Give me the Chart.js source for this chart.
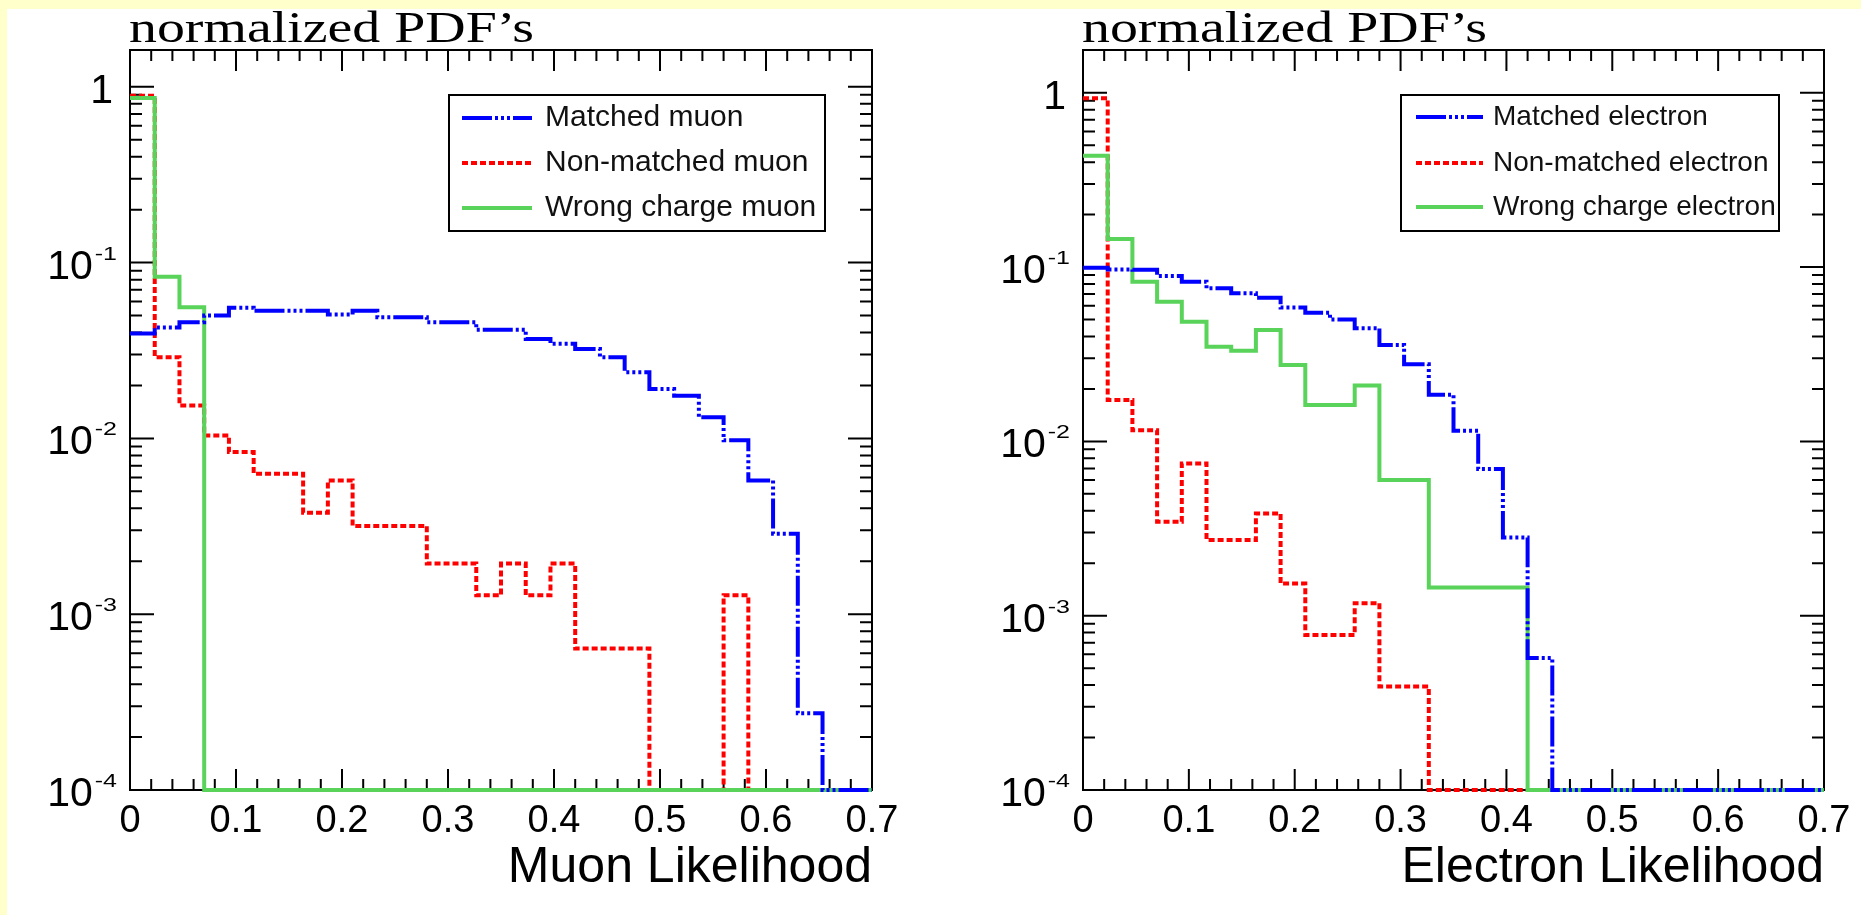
<!DOCTYPE html>
<html>
<head>
<meta charset="utf-8">
<title>normalized PDF's</title>
<script src="https://cdn.jsdelivr.net/npm/chart.js@4.4.1/dist/chart.umd.min.js"></script>
<style>
  html, body { margin: 0; padding: 0; background: #ffffcc; }
  #page { position: relative; width: 1861px; height: 915px; overflow: hidden; }
  #panel { position: absolute; left: 7px; top: 9px; right: 0; bottom: 0; background: #fff; }
  canvas { position: absolute; top: 0; }
  #muonChart { left: 0; }
  #electronChart { left: 930px; }
</style>
</head>
<body>
<div id="page">
  <div id="panel"></div>
  <canvas id="muonChart" width="930" height="915"></canvas>
  <canvas id="electronChart" width="931" height="915"></canvas>
</div>
<script>
// histogram binning: 30 bins between 0 and 0.7
const nBins = 30;
const xMin = 0;
const xMax = 0.7;

const xTickValues = [0, 0.1, 0.2, 0.3, 0.4, 0.5, 0.6, 0.7];
const xTickLabels = ["0", "0.1", "0.2", "0.3", "0.4", "0.5", "0.6", "0.7"];
const yDecades = [1e-4, 1e-3, 1e-2, 1e-1, 1];
const yExponents = ["-4", "-3", "-2", "-1", ""];

// muon likelihood (left)
const muonLabels = ["Matched muon", "Non-matched muon", "Wrong charge muon"];
const muonMatched = [0.0395, 0.0428, 0.0458, 0.050, 0.0553, 0.0533, 0.0533, 0.0533, 0.0507, 0.0533,
  0.0489, 0.0489, 0.0458, 0.0458, 0.0415, 0.0415, 0.0368, 0.0345, 0.0323, 0.029,
  0.0238, 0.0191, 0.0175, 0.0132, 0.00975, 0.00577, 0.00287, 0.000273, 0, 0];
const muonNonMatched = [0.89, 0.029, 0.0154, 0.0104, 0.00836, 0.0063, 0.0063, 0.00378, 0.00577, 0.00318,
  0.00318, 0.00318, 0.00194, 0.00194, 0.00128, 0.00194, 0.00128, 0.00194, 0.000638, 0.000638,
  0.000638, 0, 0, 0, 0.00128, 0, 0, 0, 0, 0];
const muonWrongCharge = [0.863, 0.0832, 0.0557, 0, 0, 0, 0, 0, 0, 0,
  0, 0, 0, 0, 0, 0, 0, 0, 0, 0,
  0, 0, 0, 0, 0, 0, 0, 0, 0, 0];

// electron likelihood (right)
const electronLabels = ["Matched electron", "Non-matched electron", "Wrong charge electron"];
const electronMatched = [0.099, 0.097, 0.0964, 0.0889, 0.0824, 0.0755, 0.0707, 0.0667, 0.0587, 0.0547,
  0.0501, 0.0446, 0.0357, 0.0277, 0.0185, 0.0115, 0.00695, 0.00281, 0.000571, 0,
  0, 0, 0, 0, 0, 0, 0, 0, 0, 0];
const electronNonMatched = [0.93, 0.0173, 0.0116, 0.00346, 0.00748, 0.00272, 0.00272, 0.00386, 0.00153, 0.000774,
  0.000774, 0.00118, 0.000392, 0.000392, 0, 0, 0, 0, 0, 0,
  0, 0, 0, 0, 0, 0, 0, 0, 0, 0];
const electronWrongCharge = [0.435, 0.145, 0.0824, 0.0632, 0.0486, 0.0349, 0.0331, 0.0435, 0.0274, 0.0162,
  0.0162, 0.0209, 0.00601, 0.00601, 0.00145, 0.00145, 0.00145, 0.00145, 0, 0,
  0, 0, 0, 0, 0, 0, 0, 0, 0, 0];

// line styles (blue on top, green, red at the bottom)
const seriesStyle = [
  { color: "#0000ff", width: 4, dash: [30, 3, 3, 3, 3, 3, 3, 3], order: 0 },
  { color: "#ff0000", width: 4, dash: [6, 3], order: 2 },
  { color: "#59d359", width: 4, dash: [], order: 1 }
];

const SANS = '"Liberation Sans", Arial, sans-serif';
const SERIF = '"Liberation Serif", "Times New Roman", serif';

// zero bins are drawn on the axis floor like ROOT does on a log scale
function histoPoints(values, floor) {
  var w = (xMax - xMin) / nBins;
  var pts = values.map(function (v, i) {
    return { x: xMin + i * w, y: Math.max(v, floor) };
  });
  pts.push({ x: xMax, y: Math.max(values[values.length - 1], floor) });
  return pts;
}

function minorXTicks() {
  var out = [];
  for (var i = 0; i < xTickValues.length - 1; i++) {
    var d = (xTickValues[i + 1] - xTickValues[i]) / 5;
    for (var k = 1; k < 5; k++) out.push(xTickValues[i] + k * d);
  }
  return out;
}

function minorYTicks(yMax) {
  var out = [];
  for (var d of yDecades) {
    for (var m = 2; m <= 9; m++) {
      if (d * m < yMax) out.push(d * m);
    }
  }
  return out;
}

const rootFrame = {
  id: "rootFrame",
  beforeDatasetsDraw(chart, args, opts) {
    const ctx = chart.ctx;
    const a = chart.chartArea;
    const xs = chart.scales.x;
    const ys = chart.scales.y;
    ctx.save();
    ctx.strokeStyle = "#000";
    ctx.lineWidth = 2;
    ctx.beginPath();
    // x ticks, pointing inward, bottom and top
    for (var v of xTickValues) {
      var px = xs.getPixelForValue(v);
      ctx.moveTo(px, a.bottom); ctx.lineTo(px, a.bottom - 21);
      ctx.moveTo(px, a.top); ctx.lineTo(px, a.top + 21);
    }
    for (var v of minorXTicks()) {
      var px = xs.getPixelForValue(v);
      ctx.moveTo(px, a.bottom); ctx.lineTo(px, a.bottom - 11);
      ctx.moveTo(px, a.top); ctx.lineTo(px, a.top + 11);
    }
    // y ticks, left and right
    for (var d of yDecades) {
      var py = ys.getPixelForValue(d);
      ctx.moveTo(a.left, py); ctx.lineTo(a.left + 24, py);
      ctx.moveTo(a.right, py); ctx.lineTo(a.right - 24, py);
    }
    for (var v of minorYTicks(ys.max)) {
      var py = ys.getPixelForValue(v);
      ctx.moveTo(a.left, py); ctx.lineTo(a.left + 12, py);
      ctx.moveTo(a.right, py); ctx.lineTo(a.right - 12, py);
    }
    ctx.stroke();
    ctx.strokeRect(a.left, a.top, a.right - a.left, a.bottom - a.top);

    ctx.fillStyle = "#000";
    // x tick labels
    ctx.font = "38px " + SANS;
    ctx.textAlign = "center";
    ctx.textBaseline = "alphabetic";
    xTickValues.forEach(function (v, i) {
      ctx.fillText(xTickLabels[i], xs.getPixelForValue(v), a.bottom + 42);
    });
    // y tick labels: 10 with a raised exponent
    yDecades.forEach(function (d, i) {
      var py = ys.getPixelForValue(d);
      var exp = yExponents[i];
      ctx.textAlign = "right";
      if (exp === "") {
        ctx.font = "41px " + SANS;
        ctx.fillText("1", a.left - 17, py + 16);
        return;
      }
      ctx.font = "25px " + SANS;
      var ew = ctx.measureText(exp).width;
      ctx.save();
      ctx.translate(a.left - 13, py - 3);
      ctx.scale(1, 0.7);
      ctx.fillText(exp, 0, 0);
      ctx.restore();
      ctx.font = "41px " + SANS;
      ctx.fillText("10", a.left - 15 - ew, py + 16);
    });
    // axis title
    ctx.font = "50px " + SANS;
    ctx.textAlign = "right";
    ctx.fillText(opts.xTitle, a.right, a.bottom + 92);
    // pad title (wide serif)
    ctx.font = "45px " + SERIF;
    ctx.textAlign = "left";
    var tw = ctx.measureText(opts.title).width;
    ctx.translate(a.left - 1, 42);
    ctx.scale(opts.titleWidth / tw, 1);
    ctx.fillText(opts.title, 0, 0);
    ctx.restore();
  },
  afterDatasetsDraw(chart, args, opts) {
    const ctx = chart.ctx;
    const lg = opts.legend;
    ctx.save();
    ctx.fillStyle = "#fff";
    ctx.fillRect(lg.left, lg.top, lg.right - lg.left, lg.bottom - lg.top);
    ctx.strokeStyle = "#000";
    ctx.lineWidth = 2;
    ctx.strokeRect(lg.left, lg.top, lg.right - lg.left, lg.bottom - lg.top);
    chart.data.datasets.forEach(function (ds, i) {
      var y = lg.rows[i];
      ctx.strokeStyle = ds.borderColor;
      ctx.lineWidth = ds.borderWidth;
      ctx.setLineDash(ds.borderDash);
      ctx.beginPath();
      ctx.moveTo(lg.lineFrom, y);
      ctx.lineTo(lg.lineTo, y);
      ctx.stroke();
      ctx.setLineDash([]);
      ctx.fillStyle = "#111";
      ctx.font = lg.fontSize + "px " + SANS;
      ctx.textAlign = "left";
      ctx.textBaseline = "alphabetic";
      ctx.fillText(ds.label, lg.textX, y + lg.baseShift);
    });
    ctx.restore();
  }
};

function makeChart(canvasId, labels, series, yMax, padding, opts) {
  var datasets = series.map(function (values, i) {
    var st = seriesStyle[i];
    return {
      label: labels[i],
      data: histoPoints(values, yDecades[0]),
      borderColor: st.color,
      borderWidth: st.width,
      borderDash: st.dash,
      order: st.order,
      stepped: true,
      pointRadius: 0,
      fill: false,
      clip: false
    };
  });
  return new Chart(document.getElementById(canvasId), {
    type: "line",
    data: { datasets: datasets },
    options: {
      responsive: false,
      animation: false,
      events: [],
      layout: { padding: padding },
      scales: {
        x: { type: "linear", min: xMin, max: xMax, display: false },
        y: { type: "logarithmic", min: yDecades[0], max: yMax, display: false }
      },
      plugins: {
        legend: { display: false },
        tooltip: { enabled: false },
        rootFrame: opts
      }
    },
    plugins: [rootFrame]
  });
}

makeChart("muonChart", muonLabels, [muonMatched, muonNonMatched, muonWrongCharge], 1.62,
  { left: 130, top: 50, right: 58, bottom: 125 },
  {
    title: "normalized PDF\u2019s",
    titleWidth: 405,
    xTitle: "Muon Likelihood",
    legend: { left: 449, right: 825, top: 95, bottom: 231, lineFrom: 462, lineTo: 532,
      textX: 545, rows: [118, 163, 208], baseShift: 8, fontSize: 30 }
  });

makeChart("electronChart", electronLabels, [electronMatched, electronNonMatched, electronWrongCharge], 1.76,
  { left: 153, top: 50, right: 37, bottom: 125 },
  {
    title: "normalized PDF\u2019s",
    titleWidth: 405,
    xTitle: "Electron Likelihood",
    legend: { left: 471, right: 849, top: 95, bottom: 231, lineFrom: 486, lineTo: 553,
      textX: 563, rows: [117, 163, 207], baseShift: 8, fontSize: 28 }
  });
</script>
</body>
</html>
